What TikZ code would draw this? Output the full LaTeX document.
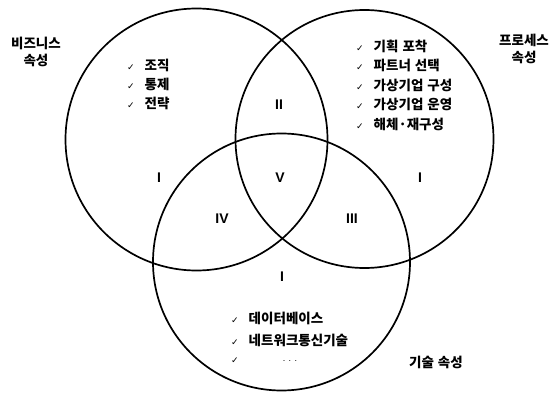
\documentclass[tikz,border=0pt]{standalone}
\usepackage{fontspec}
\setmainfont{Liberation Sans}
\newfontfamily\kr{Noto Sans CJK KR}
\newfontfamily\symf{DejaVu Sans}
\newcommand\ck{{\symf\fontsize{9}{9}\selectfont ✓}\hspace{10pt}}
\begin{document}
\begin{tikzpicture}[x=1pt,y=-1pt,
  venn/.style={circle,draw=black,line width=1.7pt,inner sep=0pt},
  kor/.style={inner sep=0pt,font=\kr\bfseries\fontsize{13.5}{15}\selectfont},
  item/.style={kor,anchor=west},
  rom/.style={inner sep=0pt,font=\bfseries\fontsize{14}{14}\selectfont}]
\useasboundingbox (0,0) rectangle (550,399);
% circles
\node[venn,minimum size=262pt] (biz) at (196.5,139.5) {};
\node[venn,minimum size=258pt] (proc) at (364.5,139) {};
\node[venn,minimum size=257pt] (tech) at (281.5,262) {};
% titles
\node[kor,align=center] (tbiz) at (36,52) {비즈니스\\[2pt]속성};
\node[kor,align=center] (tproc) at (524,49) {프로세스\\[2pt]속성};
\node[kor] (ttech) at (436,362) {기술\hspace{4pt}속성};
% roman numerals
\node[rom] (r1a) at (159,178) {I};
\node[rom] (r1b) at (420,178) {I};
\node[rom] (r1c) at (282,277) {I};
\node[rom] (r2) at (279,105) {II};
\node[rom] (r3) at (352,219) {III};
\node[rom] (r4) at (222,219) {IV};
\node[rom] (r5) at (280,178) {V};
% business items
\node[item] (l1) at (127,65) {\ck 조직};
\node[item] (l2) at (127,84) {\ck 통제};
\node[item] (l3) at (127,103) {\ck 전략};
% process items
\node[item] (p1) at (356,46) {\ck 기획\hspace{4pt}포착};
\node[item] (p2) at (356,65.5) {\ck 파트너\hspace{4pt}선택};
\node[item] (p3) at (356,85) {\ck 가상기업\hspace{4pt}구성};
\node[item] (p4) at (356,104.5) {\ck 가상기업\hspace{4pt}운영};
\node[item] (p5) at (356,124) {\ck 해체·재구성};
% technology items
\node[item] (b1) at (231,318) {\ck 데이터베이스};
\node[item] (b2) at (231,340) {\ck 네트워크통신기술};
\node[item] (b3) at (231,361) {{\symf\fontsize{9}{9}\selectfont ✓}};
\node[inner sep=0pt,font=\fontsize{9}{9}\selectfont] (b3d) at (290,361) {. . .};
\end{tikzpicture}
\end{document}
